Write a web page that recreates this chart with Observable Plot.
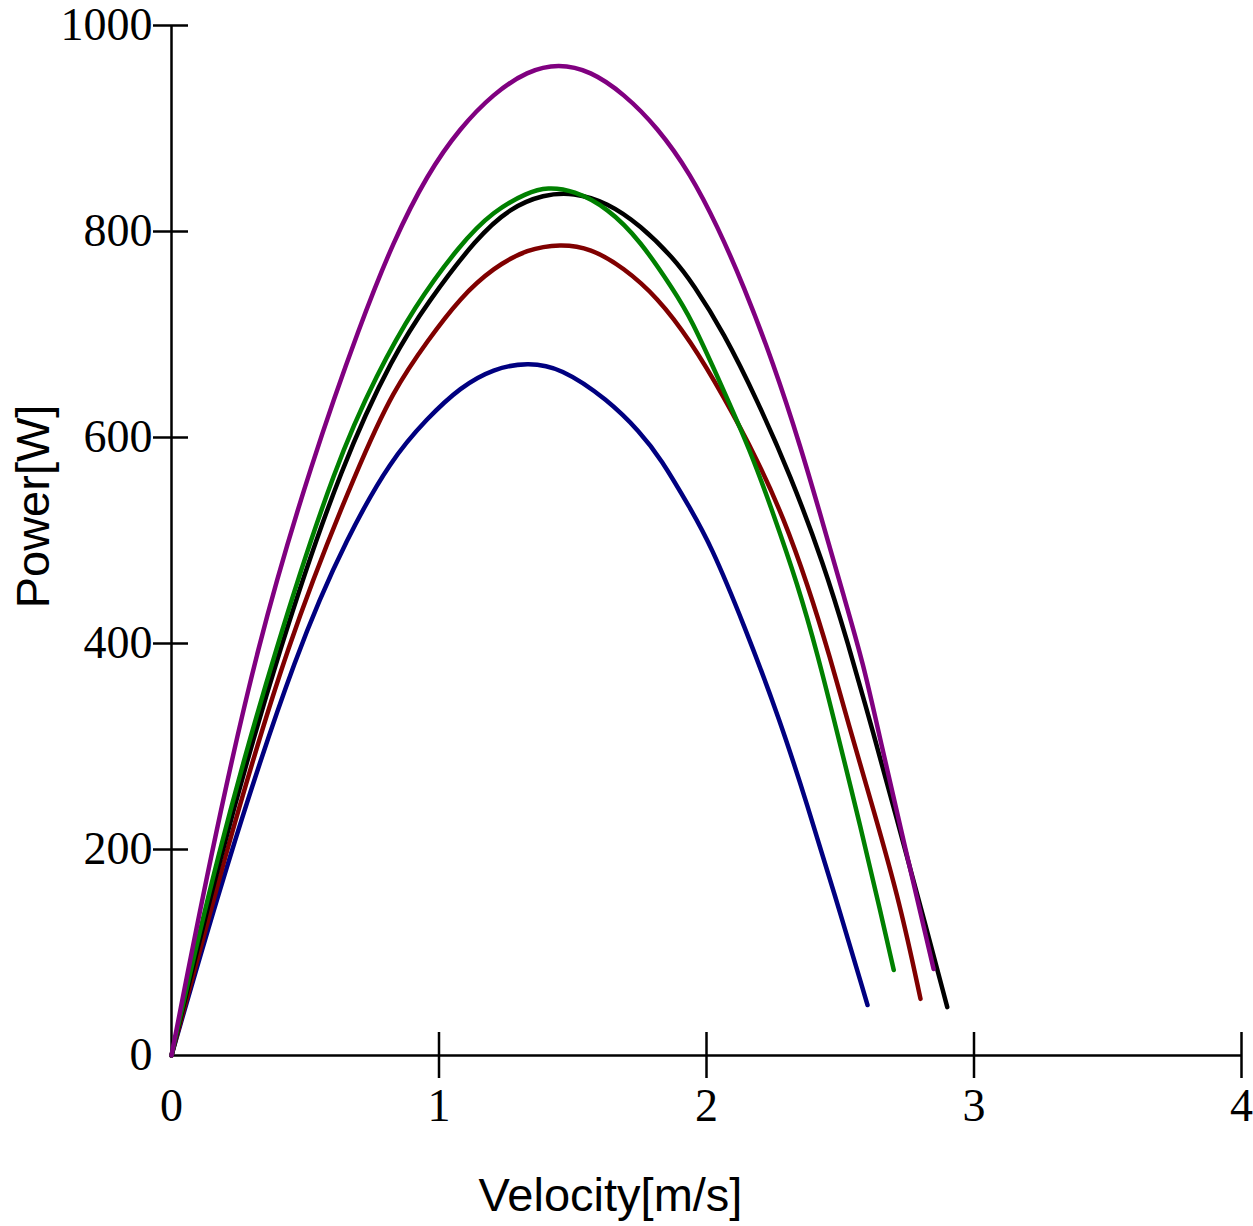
<!DOCTYPE html>
<html>
<head>
<meta charset="utf-8">
<script src="https://cdn.jsdelivr.net/npm/d3@7"></script>
<script src="https://cdn.jsdelivr.net/npm/@observablehq/plot@0.6"></script>
<style>
  body { margin: 0; background: #ffffff; }
  #chart svg { display: block; }
</style>
</head>
<body>
<div id="chart"></div>
<script>
// Series (drawing order) and colours
const seriesNames = ["Series A", "Series B", "Series C", "Series D", "Series E"];
const seriesColors = ["#000080", "#800000", "#000000", "#008000", "#800080"];

// Velocity [m/s] and Power [W]
const seriesAV = [0, 0.209, 0.471, 0.660, 0.819, 0.957, 1.080, 1.204, 1.331, 1.454, 1.630, 1.753, 1.828, 1.940, 2.015, 2.138, 2.277, 2.377, 2.475, 2.602];
const seriesAP = [0, 189, 396, 505, 578, 619, 649, 667, 673, 668, 637, 605, 580, 531, 496, 420, 324, 243, 160, 49];

const seriesBV = [0, 0.194, 0.430, 0.707, 0.830, 0.957, 1.080, 1.204, 1.331, 1.454, 1.566, 1.690, 1.817, 1.940, 2.064, 2.191, 2.288, 2.377, 2.464, 2.527, 2.625, 2.725, 2.800];
const seriesBP = [0, 189, 400, 578, 646, 694, 736, 765, 783, 788, 784, 765, 736, 694, 640, 578, 522, 458, 385, 325, 238, 146, 55];

const seriesCV = [0, 0.176, 0.407, 0.643, 0.830, 0.957, 1.144, 1.267, 1.391, 1.503, 1.630, 1.753, 1.877, 1.950, 2.064, 2.190, 2.314, 2.437, 2.526, 2.625, 2.713, 2.800, 2.900];
const seriesCP = [0, 189, 400, 578, 680, 731, 795, 823, 836, 838, 828, 806, 774, 749, 702, 636, 563, 478, 403, 312, 228, 145, 47];

const seriesDV = [0, 0.164, 0.393, 0.619, 0.769, 0.905, 1.080, 1.204, 1.331, 1.405, 1.503, 1.630, 1.753, 1.877, 1.940, 2.064, 2.164, 2.250, 2.340, 2.415, 2.490, 2.576, 2.650, 2.700];
const seriesDP = [0, 189, 400, 578, 662, 726, 788, 820, 838, 843, 840, 823, 791, 743, 717, 646, 587, 526, 458, 390, 312, 222, 140, 83];

const seriesEV = [0, 0.142, 0.321, 0.526, 0.707, 0.830, 0.957, 1.080, 1.204, 1.331, 1.447, 1.566, 1.690, 1.817, 1.940, 2.041, 2.138, 2.250, 2.351, 2.437, 2.512, 2.587, 2.650, 2.736, 2.849];
const seriesEP = [0, 189, 400, 578, 711, 791, 856, 901, 934, 956, 963, 956, 934, 901, 856, 805, 748, 672, 592, 515, 447, 380, 306, 209, 84];

// Axis ticks
const xTicks = [0, 1, 2, 3, 4];
const yTicks = [0, 200, 400, 600, 800, 1000];
const xLabel = "Velocity[m/s]";
const yLabel = "Power[W]";

const seriesV = [seriesAV, seriesBV, seriesCV, seriesDV, seriesEV];
const seriesP = [seriesAP, seriesBP, seriesCP, seriesDP, seriesEP];
const rows = [];
seriesNames.forEach((s, i) => {
  seriesV[i].forEach((v, j) => rows.push({s, v, p: seriesP[i][j]}));
});

const serif = "'Liberation Serif', 'Times New Roman', serif";
const sans = "'Liberation Sans', Arial, sans-serif";

const chart = Plot.plot({
  width: 1253,
  height: 1226,
  marginLeft: 171,
  marginRight: 12,
  marginTop: 25,
  marginBottom: 171,
  x: {domain: [0, 4]},
  y: {domain: [0, 1000]},
  color: {type: "ordinal", domain: seriesNames, range: seriesColors},
  style: {fontFamily: serif, fontSize: "46px", background: "#ffffff", color: "#000"},
  marks: [
    // tick labels
    Plot.axisY({ticks: yTicks, tickSize: 0, tickPadding: 19, tickFormat: d => String(d), label: null, fontSize: 46, fontFamily: serif}),
    Plot.axisX({ticks: xTicks, tickSize: 0, tickPadding: 33, tickFormat: d => String(d), label: null, fontSize: 46, fontFamily: serif}),
    // crossing ticks
    Plot.axisY({ticks: yTicks.slice(1), tickSize: 18, text: null, label: null, strokeWidth: 2.5}),
    Plot.axisY({ticks: yTicks.slice(1), tickSize: -17, text: null, label: null, strokeWidth: 2.5}),
    Plot.axisX({ticks: xTicks.slice(1), tickSize: 23, text: null, label: null, strokeWidth: 2.5}),
    Plot.axisX({ticks: xTicks.slice(1), tickSize: -23, text: null, label: null, strokeWidth: 2.5}),
    // axis lines
    Plot.ruleX([0], {strokeWidth: 2.5}),
    Plot.ruleY([0], {strokeWidth: 2.5}),
    // curves
    Plot.line(rows, {x: "v", y: "p", z: "s", stroke: "s", strokeWidth: 4.5, curve: "basis", strokeLinecap: "round", strokeLinejoin: "round"}),
    // axis titles
    Plot.text([xLabel], {text: d => d, frameAnchor: "bottom", dy: 155, dx: -96, lineAnchor: "bottom", textAnchor: "middle", fontFamily: sans, fontSize: 47, fill: "#000"}),
    Plot.text([yLabel], {text: d => d, frameAnchor: "left", dx: -123, dy: -34, rotate: -90, lineAnchor: "bottom", textAnchor: "middle", fontFamily: sans, fontSize: 47, fill: "#000"})
  ]
});
document.getElementById("chart").appendChild(chart);
</script>
</body>
</html>
